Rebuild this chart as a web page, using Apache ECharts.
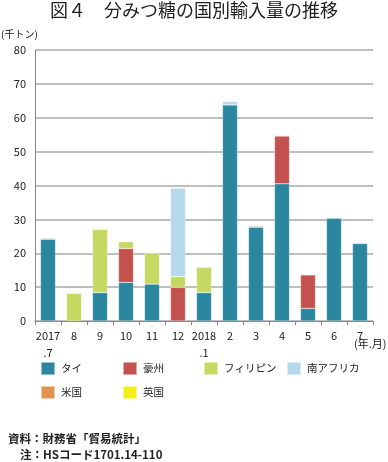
<!DOCTYPE html>
<html><head><meta charset="utf-8">
<script src="https://cdn.jsdelivr.net/npm/echarts@6/dist/echarts.min.js"></script>
<style>html,body{margin:0;padding:0;background:#fff}#c{width:388px;height:462px}</style>
</head><body><div id="c"></div>
<script>
const categories = ['2017\n.7','8','9','10','11','12','2018\n.1','2','3','4','5','6','7'];
const seriesNames = ['タイ','豪州','フィリピン','南アフリカ','米国','英国'];
const thai = [24.1, null, 8.4, 11.4, 10.9, null, 8.4, 63.8, 27.7, 40.5, 3.7, 30.3, 22.9];
const australia = [null, null, null, 10.0, null, 9.9, null, null, null, 14.1, 9.9, null, null];
const philippines = [null, 8.1, 18.6, 2.0, 9.0, 3.2, 7.4, null, null, null, null, null, null];
const southAfrica = [null, null, null, null, null, 26.1, null, 1.0, null, null, null, null, null];
const usa = [0.3, 0.2, null, null, 0.2, null, 0.2, null, 0.3, 0.2, null, null, null];
const uk = [null, null, 0.3, null, null, null, null, null, null, null, null, null, null];
const yTicks = {min: 0, max: 80, interval: 10};

const colors = ['#2b87a0','#c3524e','#c4d862','#b5d8ea','#e0924f','#f2ee1a'];
const values = [thai, australia, philippines, southAfrica, usa, uk];
const FONT = '"Noto Sans CJK JP", "Noto Sans", sans-serif';

const chart = echarts.init(document.getElementById('c'), null, {renderer:'canvas'});
const legendPos = [[40,361],[122,361],[203,361],[286,361],[40,385],[122,385]];
const option = {
  animation: false,
  textStyle: {fontFamily: FONT},
  grid: {left: 35, right: 15, top: 50, bottom: 141, containLabel: false},
  legend: seriesNames.map((n,i)=>({
    data: [n], left: legendPos[i][0], top: legendPos[i][1],
    itemWidth: 14, itemHeight: 13, itemGap: 6, padding: 0, selectedMode: false,
    icon: 'rect',
    textStyle: {fontFamily: FONT, fontSize: 10.5, color: '#222', padding: [0,0,0,1]}
  })),
  xAxis: {
    type: 'category', data: categories,
    axisLine: {show: true, lineStyle: {color: '#888', width: 1}},
    axisTick: {show: true, alignWithLabel: false, length: 4, lineStyle: {color: '#888'}},
    axisLabel: {fontFamily: FONT, fontSize: 11, color: '#222', margin: 6, lineHeight: 17, interval: 0}
  },
  yAxis: {
    type: 'value', min: yTicks.min, max: yTicks.max, interval: yTicks.interval,
    axisLine: {show: true, lineStyle: {color: '#888', width: 1}},
    axisTick: {show: false},
    axisLabel: {fontFamily: FONT, fontSize: 11, color: '#222', margin: 9},
    splitLine: {show: true, lineStyle: {color: '#aaaaaa', width: 1.5}}
  },
  series: seriesNames.map((n,i)=>({
    name: n, type: 'bar', stack: 'total', data: values[i], barWidth: 15,
    itemStyle: {color: colors[i], borderColor: 'rgba(255,255,255,0.5)', borderWidth: 0.5}
  })),
  graphic: [
    {type:'text', left:'center', top: 1, style:{text:'図４　分みつ糖の国別輸入量の推移', font:'normal 18px '+FONT, fill:'#222'}},
    {type:'text', left: 1, top: 29, style:{text:'(千トン)', font:'10px '+FONT, fill:'#222'}},
    {type:'text', left: 354, top: 338, style:{text:'(年.月)', font:'11px '+FONT, fill:'#222'}},
    {type:'text', left: 8, top: 433, style:{text:'資料：財務省「貿易統計」', font:'bold 11.5px '+FONT, fill:'#222'}},
    {type:'text', left: 20, top: 449, style:{text:'注：HSコード1701.14-110', font:'bold 11.5px '+FONT, fill:'#222'}}
  ]
};
chart.setOption(option);
</script></body></html>
